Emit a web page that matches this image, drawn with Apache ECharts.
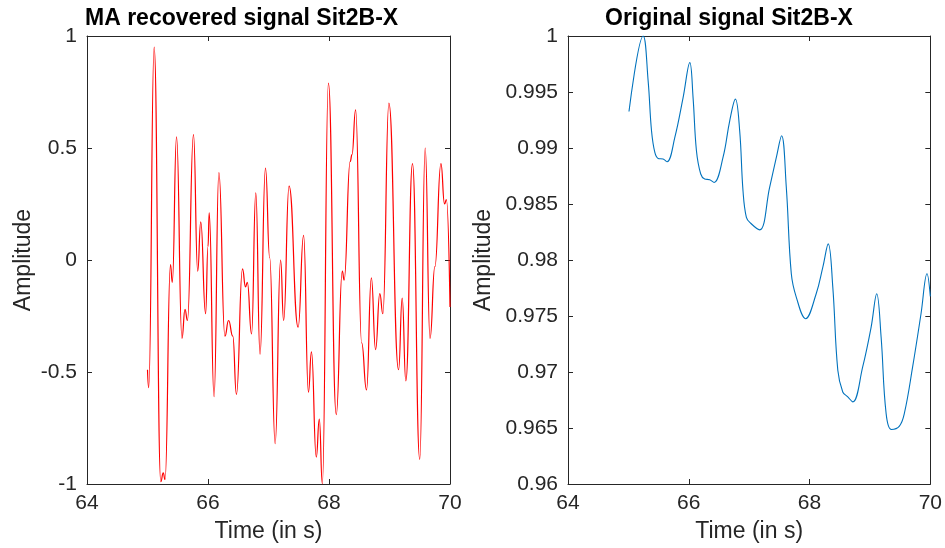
<!DOCTYPE html>
<html>
<head>
<meta charset="utf-8">
<script src="https://cdn.jsdelivr.net/npm/echarts@6/dist/echarts.min.js"></script>
<style>html,body{margin:0;padding:0;background:#fff;}#c{width:945px;height:548px;}</style>
</head>
<body>
<div id="c"></div>
<script>
// Left panel: MA recovered signal (time s, amplitude)
var recoveredT = [65.00,65.02,65.11,65.22,65.26,65.29,65.38,65.41,65.48,65.57,65.62,65.66,65.76,65.83,65.88,65.96,66.00,66.02,66.10,66.18,66.28,66.34,66.41,66.47,66.57,66.62,66.65,66.72,66.79,66.86,66.95,67.02,67.11,67.20,67.25,67.34,67.49,67.58,67.66,67.71,67.79,67.84,67.89,67.99,68.12,68.22,68.25,68.35,68.38,68.44,68.54,68.62,68.70,68.77,68.84,68.89,68.99,69.15,69.21,69.27,69.38,69.50,69.59,69.67,69.75,69.85,69.91,69.94,70.00];
var recoveredA = [-0.49,-0.57,0.95,-0.99,-0.95,-0.98,-0.02,-0.10,0.55,-0.35,-0.22,-0.27,0.56,-0.05,0.17,-0.24,0.06,0.21,-0.61,0.39,-0.34,-0.27,-0.34,-0.60,-0.04,-0.12,-0.10,-0.33,0.30,-0.42,0.41,0.01,-0.82,0.00,-0.27,0.33,-0.30,0.11,-0.59,-0.41,-0.88,-0.71,-1.00,0.79,-0.69,-0.05,-0.09,0.44,0.47,0.67,-0.37,-0.58,-0.08,-0.40,-0.15,-0.24,0.70,-0.49,-0.17,-0.54,0.43,-0.89,0.50,-0.35,-0.03,0.43,0.25,0.27,-0.21];

// Right panel: original signal
var originalT = [65.01,65.245,65.327,65.383,65.438,65.493,65.575,65.641,65.769,65.906,66.017,66.071,66.127,66.198,66.264,66.347,66.418,66.567,66.678,66.772,66.843,66.898,66.954,67.025,67.174,67.339,67.45,67.537,67.615,67.698,67.78,67.934,68.11,68.22,68.309,68.385,68.468,68.55,68.633,68.716,68.88,69.02,69.112,69.185,69.268,69.355,69.488,69.57,69.707,69.846,69.945,70.00];
var originalA = [0.99326,1.0000,0.99599,0.99154,0.98960,0.98907,0.98902,0.98877,0.99094,0.99450,0.99762,0.99450,0.98976,0.98768,0.98723,0.98717,0.98693,0.98916,0.99243,0.99436,0.99154,0.98619,0.98381,0.98328,0.98269,0.98649,0.98916,0.99109,0.98649,0.97877,0.97669,0.97476,0.97699,0.97936,0.98144,0.97758,0.97016,0.96822,0.96778,0.96733,0.97045,0.97401,0.97699,0.97312,0.96630,0.96487,0.96517,0.96630,0.97045,0.97520,0.97877,0.97675];

var xTicks = [64, 66, 68, 70];
var leftYTicks = [-1, -0.5, 0, 0.5, 1];
var rightYTicks = [0.96, 0.965, 0.97, 0.975, 0.98, 0.985, 0.99, 0.995, 1];

function pairs(t, a) { return t.map(function (v, i) { return [v, a[i]]; }); }

var FONT = 'Liberation Sans, Arial, Helvetica, sans-serif';
var AX = '#262626';

function fmt(v) { return String(+v.toFixed(4)); }

function xAxes(grid) {
  var base = {
    type: 'value', gridIndex: grid,
    min: xTicks[0], max: xTicks[xTicks.length - 1], interval: xTicks[1] - xTicks[0],
    splitLine: { show: false },
    axisLine: { show: true, onZero: false, lineStyle: { color: AX, width: 1 } },
    axisTick: { show: true, inside: true, length: 5, lineStyle: { color: AX } }
  };
  var bottom = Object.assign({}, base, {
    position: 'bottom',
    name: 'Time (in s)', nameLocation: 'middle', nameGap: 36,
    nameTextStyle: { fontFamily: FONT, fontSize: 23, color: AX },
    axisLabel: { show: true, fontFamily: FONT, fontSize: 21, color: AX, margin: 9, formatter: fmt }
  });
  var top = Object.assign({}, base, { position: 'top', axisLabel: { show: false } });
  return [bottom, top];
}

function yAxes(grid, ticks, gap) {
  var base = {
    type: 'value', gridIndex: grid,
    min: ticks[0], max: ticks[ticks.length - 1], interval: +(ticks[1] - ticks[0]).toFixed(6),
    splitLine: { show: false },
    axisLine: { show: true, onZero: false, lineStyle: { color: AX, width: 1 } },
    axisTick: { show: true, inside: true, length: 5, lineStyle: { color: AX } }
  };
  var left = Object.assign({}, base, {
    position: 'left',
    name: 'Amplitude', nameLocation: 'middle', nameGap: gap,
    nameTextStyle: { fontFamily: FONT, fontSize: 23, color: AX },
    axisLabel: { show: true, fontFamily: FONT, fontSize: 21, color: AX, margin: 10, formatter: fmt }
  });
  var right = Object.assign({}, base, { position: 'right', axisLabel: { show: false } });
  return [left, right];
}

var chart = echarts.init(document.getElementById('c'), null, { renderer: 'canvas' });
chart.setOption({
  animation: false,
  backgroundColor: '#fff',
  title: [
    { text: 'MA recovered signal Sit2B-X', left: 80, top: 2,
      textStyle: { fontFamily: FONT, fontSize: 23, fontWeight: 'bold', color: '#000' } },
    { text: 'Original signal Sit2B-X', left: 600, top: 2,
      textStyle: { fontFamily: FONT, fontSize: 23, fontWeight: 'bold', color: '#000' } }
  ],
  grid: [
    { left: 87, top: 36, width: 363, height: 448, show: false },
    { left: 568, top: 36, width: 363, height: 448, show: false }
  ],
  xAxis: xAxes(0).concat(xAxes(1)),
  yAxis: yAxes(0, leftYTicks, 52).concat(yAxes(1, rightYTicks, 73)),
  series: [
    { type: 'line', xAxisIndex: 0, yAxisIndex: 0, data: pairs(recoveredT, recoveredA),
      smooth: 0.5, smoothMonotone: 'x', showSymbol: false, clip: true,
      lineStyle: { color: '#ff0000', width: 1.2 } },
    { type: 'line', xAxisIndex: 2, yAxisIndex: 2, data: pairs(originalT, originalA),
      smooth: 0.4, showSymbol: false, clip: true,
      lineStyle: { color: '#0072BD', width: 1.1 } }
  ]
});
</script>
</body>
</html>
